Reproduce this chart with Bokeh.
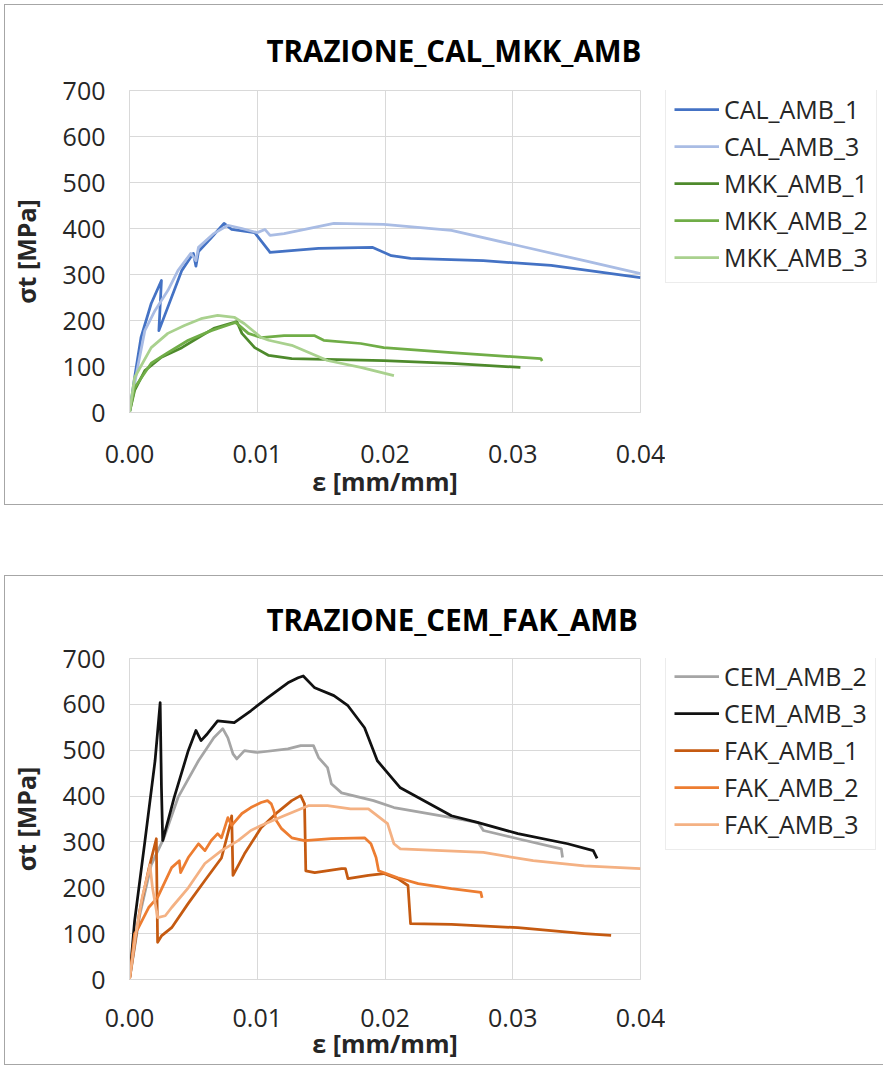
from bokeh.plotting import figure
from bokeh.models import Legend, LegendItem, FixedTicker, Range1d, NumeralTickFormatter
from bokeh.layouts import column, row
from bokeh.embed import file_html
from bokeh.resources import INLINE

# ---------------- data: TRAZIONE_CAL_MKK_AMB ----------------
cal1_x = [0, .0004, .0009, .0017, .0025, .0023, .0041, .0050, .0052, .0054, .0064, .0074, .0080, .0098, .0109, .0110, .0148, .0190, .0205, .0220, .0277, .0330, .0400]
cal1_y = [0, 76, 163, 237, 287, 178, 309, 346, 318, 350, 380, 411, 398, 391, 352, 348, 357, 359, 341, 335, 330, 320, 293]

cal3_x = [0, .0002, .0007, .0012, .0020, .0030, .0038, .0048, .0052, .0054, .0066, .0077, .0088, .0100, .0106, .0110, .0121, .0160, .0199, .0252, .0304, .0356, .0400]
cal3_y = [0, 33, 107, 178, 222, 265, 309, 346, 330, 359, 389, 407, 400, 391, 398, 385, 389, 411, 409, 396, 363, 330, 302]

mkk1_x = [0, .0004, .0012, .0025, .0041, .0054, .0066, .0082, .0084, .0088, .0098, .0109, .0127, .0199, .0252, .0306]
mkk1_y = [0, 48, 91, 120, 141, 163, 183, 196, 198, 172, 141, 124, 117, 113, 107, 98]

mkk2_x = [0, .0004, .0017, .0030, .0046, .0064, .0080, .0083, .0093, .0103, .0121, .0145, .0152, .0181, .0199, .0252, .0322, .0323]
mkk2_y = [0, 54, 107, 130, 157, 178, 193, 196, 172, 163, 167, 167, 157, 150, 141, 130, 117, 112]

mkk3_x = [0, .0004, .0017, .0030, .0043, .0056, .0069, .0082, .0090, .0103, .0109, .0127, .0155, .0181, .0207]
mkk3_y = [0, 76, 141, 172, 189, 204, 211, 207, 193, 163, 157, 146, 113, 98, 80]

# ---------------- data: TRAZIONE_CEM_FAK_AMB ----------------
cem2_x = [0, .0008, .0017, .0027, .0038, .0054, .0066, .0073, .0077, .0081, .0084, .0090, .0100, .0124, .0134, .0144, .0148, .0155, .0158, .0166, .0191, .0207, .0252, .0273, .0277, .0304, .0338, .0339]
cem2_y = [0, 140, 250, 309, 397, 477, 527, 547, 527, 492, 481, 499, 495, 503, 510, 510, 484, 462, 427, 407, 390, 375, 353, 342, 325, 307, 285, 266]

cem3_x = [0, .0004, .0012, .0020, .0022, .0024, .0025, .0026, .0035, .0046, .0052, .0056, .0061, .0069, .0082, .0095, .0108, .0124, .0132, .0136, .0145, .0160, .0171, .0184, .0194, .0212, .0252, .0273, .0304, .0343, .0363, .0366]
cem3_y = [0, 128, 300, 477, 540, 604, 420, 303, 397, 499, 543, 521, 536, 564, 560, 586, 614, 647, 658, 662, 636, 619, 597, 549, 477, 418, 357, 342, 318, 296, 281, 264]

fak1_x = [0, .0008, .0015, .0021, .0022, .0025, .0033, .0046, .0059, .0072, .0079, .0080, .0081, .0090, .0103, .0116, .0127, .0134, .0137, .0138, .0145, .0166, .0169, .0171, .0187, .0199, .0210, .0218, .0220, .0252, .0304, .0356, .0377]
fak1_y = [0, 150, 240, 307, 81, 95, 113, 166, 216, 265, 340, 357, 227, 274, 331, 365, 390, 401, 383, 237, 233, 242, 242, 220, 227, 231, 220, 205, 122, 120, 113, 100, 96]

fak2_x = [0, .0004, .0007, .0015, .0022, .0033, .0039, .0040, .0046, .0054, .0059, .0064, .0069, .0072, .0077, .0080, .0088, .0095, .0103, .0108, .0111, .0113, .0115, .0119, .0127, .0137, .0158, .0184, .0189, .0193, .0195, .0210, .0226, .0252, .0275, .0276]
fak2_y = [0, 100, 113, 157, 179, 244, 259, 233, 266, 296, 281, 303, 318, 309, 353, 336, 362, 375, 386, 390, 383, 368, 346, 329, 309, 303, 307, 309, 296, 266, 237, 222, 209, 198, 190, 178]

fak3_x = [0, .0005, .0010, .0015, .0016, .0018, .0022, .0028, .0033, .0046, .0059, .0072, .0085, .0095, .0103, .0121, .0140, .0155, .0173, .0187, .0202, .0207, .0212, .0277, .0316, .0356, .0400]
fak3_y = [0, 100, 180, 237, 250, 200, 135, 139, 157, 200, 253, 281, 303, 325, 336, 357, 379, 379, 372, 372, 340, 296, 285, 277, 259, 248, 242]

x_ticks = [0, 0.01, 0.02, 0.03, 0.04]
y_ticks = [0, 100, 200, 300, 400, 500, 600, 700]

top_series = [
    ("CAL_AMB_1", cal1_x, cal1_y, "#4472C4"),
    ("CAL_AMB_3", cal3_x, cal3_y, "#A9BCE4"),
    ("MKK_AMB_1", mkk1_x, mkk1_y, "#4E8A2C"),
    ("MKK_AMB_2", mkk2_x, mkk2_y, "#70AD47"),
    ("MKK_AMB_3", mkk3_x, mkk3_y, "#A9D18E"),
]
bottom_series = [
    ("CEM_AMB_2", cem2_x, cem2_y, "#A5A5A5"),
    ("CEM_AMB_3", cem3_x, cem3_y, "#111111"),
    ("FAK_AMB_1", fak1_x, fak1_y, "#C55A11"),
    ("FAK_AMB_2", fak2_x, fak2_y, "#ED7D31"),
    ("FAK_AMB_3", fak3_x, fak3_y, "#F4B183"),
]

FONT = "Open Sans"
GRID = "#D9D9D9"
TXT = "#262626"


def make(title, series, height, top_b, bottom_b, title_so, tick_so, lab_so, leg_y):
    p = figure(width=660, height=height, output_backend="svg", toolbar_location=None,
               x_range=Range1d(0, 0.04), y_range=Range1d(0, 700),
               min_border_left=123, min_border_right=25,
               min_border_top=top_b, min_border_bottom=bottom_b)
    p.title.text = title
    p.title.text_font = FONT
    p.title.text_font_size = "29.5px"
    p.title.text_font_style = "bold"
    p.title.text_color = "#000000"
    p.title.align = "left"
    p.title.offset = 137
    p.title.standoff = title_so

    p.outline_line_color = GRID
    p.xgrid.grid_line_color = GRID
    p.ygrid.grid_line_color = GRID
    p.xaxis.ticker = FixedTicker(ticks=x_ticks)
    p.yaxis.ticker = FixedTicker(ticks=y_ticks)
    p.xaxis.formatter = NumeralTickFormatter(format="0.00")
    for ax in (p.xaxis, p.yaxis):
        ax.axis_line_color = GRID
        ax.major_tick_line_color = None
        ax.minor_tick_line_color = None
        ax.major_tick_out = 0
        ax.major_label_text_font = FONT
        ax.major_label_text_font_size = "25px"
        ax.major_label_text_color = TXT
        ax.axis_label_text_font = FONT
        ax.axis_label_text_font_size = "25px"
        ax.axis_label_text_font_style = "bold"
        ax.axis_label_text_color = TXT
    p.xaxis.axis_label = "ε [mm/mm]"
    p.yaxis.axis_label = "σt [MPa]"
    p.xaxis.major_label_standoff = tick_so
    p.yaxis.major_label_standoff = 24
    p.xaxis.axis_label_standoff = lab_so
    p.yaxis.axis_label_standoff = 17

    # legend panel: a bare figure whose view lies away from the data, so only the legend shows
    lf = figure(width=218, height=height, output_backend="svg", toolbar_location=None,
                x_range=Range1d(1, 2), y_range=Range1d(1000, 2000),
                x_axis_type=None, y_axis_type=None, min_border=0)
    lf.outline_line_color = None
    lf.grid.visible = False

    items = []
    for name, xs, ys, col in series:
        p.line(xs, ys, line_color=col, line_width=2.75, line_join="round")
        r = lf.line(xs, ys, line_color=col, line_width=2.75, line_join="round")
        items.append(LegendItem(label=name, renderers=[r]))
    leg = Legend(items=items, location=(0, leg_y), ncols=1)
    leg.label_text_font = FONT
    leg.label_text_font_size = "25px"
    leg.label_text_color = TXT
    leg.border_line_color = GRID
    leg.border_line_width = 1
    leg.padding = 8
    leg.spacing = 3
    leg.label_height = 26
    leg.glyph_height = 26
    leg.glyph_width = 45
    leg.label_standoff = 5
    leg.margin = 0
    leg.background_fill_color = "white"
    lf.add_layout(leg, "center")

    return row(p, lf, styles={"border": "1px solid #A6A6A6"})


r1 = make("TRAZIONE_CAL_MKK_AMB", top_series, 499, 85, 92, 40, 32, -2, 129)
r2 = make("TRAZIONE_CEM_FAK_AMB", bottom_series, 488, 82, 85, 38, 29, -4, 129)
r1.margin = (4, 0, 0, 4)
r2.margin = (70, 0, 0, 4)

layout = column(r1, r2)
open("out.html", "w").write(file_html(layout, INLINE))
